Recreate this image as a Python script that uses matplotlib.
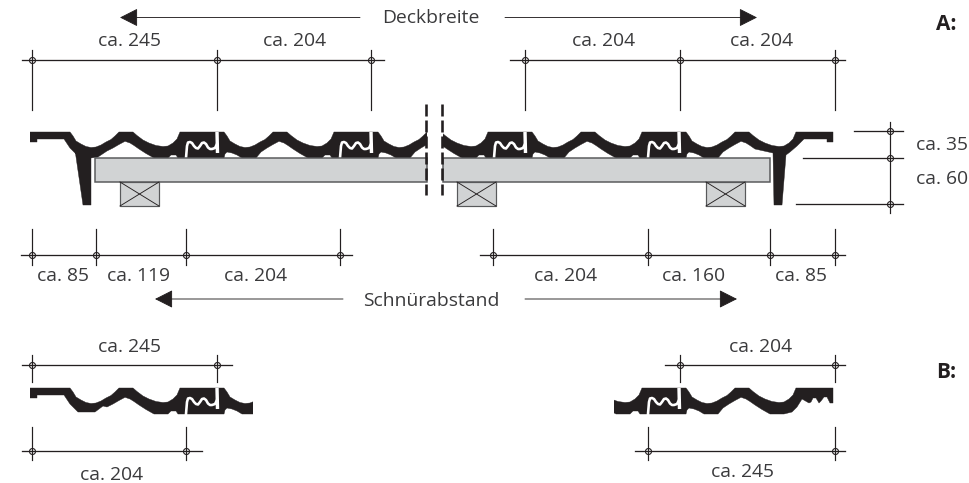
import matplotlib
matplotlib.use("Agg")
import matplotlib.pyplot as plt
from matplotlib.patches import Polygon, Rectangle

plt.rcParams['lines.scale_dashes'] = False
plt.rcParams['font.family'] = ['Open Sans', 'DejaVu Sans']

PX = 0.72
INK = '#231f20'
TXT = '#3a3a3c'
BOARD = '#d1d3d4'
EDGE = '#58595b'

# tile profile, one period (pixels from lock left / top of tile)
top_u = [0, 35, 44, 47, 50, 55, 60, 65, 70, 75, 80, 85, 89, 93, 107, 111, 117, 123, 130, 137, 142, 147, 151, 154]
top_v = [0, 0, 0, 4, 9, 12, 14.5, 15.5, 15, 13, 10, 7.5, 4, 0, 0, 3.5, 8, 11, 13.5, 14.5, 14, 11, 7, 0]
bot_u = [0, 44, 45, 47, 52, 57, 62, 76, 81, 87, 93, 99, 104, 108, 113, 120, 128, 142, 145, 150, 152, 154]
bot_v = [26, 26, 22, 20, 21, 23, 26, 26, 20, 16, 12.5, 9.3, 11, 13.5, 17, 21.5, 26, 26, 23, 23, 26, 26]
# lock: slit + wave (white line)
lock_u = [6, 6.5, 7, 8, 10, 12, 14, 16, 18, 20, 22, 24, 26, 28, 30, 32, 35, 37]
lock_v = [26, 20, 14, 10.5, 10, 11, 14, 16, 16.5, 14, 11, 10.5, 12, 15.5, 17, 17, 16, 12]
slit_u = [37, 37.5]
slit_v = [0, 21]

lock_left = [26, 180, 334, 488, 642]

# end pieces
lcap_top = [(30, 0), (70, 0)]
lcap_bot = [(30, 10), (37, 10), (37, 7), (64, 7), (70, 16), (78, 24)]
rib_left = [(75, 18), (83, 73), (91, 73), (91, 26), (98, 25), (107, 19)]
lip_left_b = [(95, 24), (103, 18), (107, 19)]
rcap_top = [(796, 0), (833, 0)]
rcap_a = [(833, 10), (827, 10), (827, 7), (804, 7), (797, 14), (790, 20), (786, 23),
          (782, 73), (774, 73), (773, 21)]
rcap_b = [(833, 15), (830, 15), (827, 9), (824, 9), (821, 13), (819, 15), (816, 10), (813, 10), (811, 14),
          (809, 15), (802, 11), (797, 19), (792, 24), (784, 26), (770, 26)]

tile_top = 132
tile_top_b = 388

# dimension chains: y, (x from, x to), nodes, (tick top, tick bottom)
dim_y = [60, 60, 255, 255, 365, 365, 451, 451]
dim_x0 = [22, 510, 21, 480, 22, 665, 22, 635]
dim_x1 = [384, 845, 352, 845, 232, 845, 202, 845]
dim_nodes = [[32, 217, 371], [525, 680, 835], [32, 96, 186, 340], [493, 648, 770, 835],
             [32, 217], [680, 835], [32, 186], [648, 835]]
dim_t0 = [50, 50, 229, 229, 355, 355, 427, 427]
dim_t1 = [110, 110, 265, 265, 382, 382, 460, 460]

side_x = 890
side_nodes = [131, 158, 204]
side_from = [854, 803, 796]

labels = ['ca. 245', 'ca. 204', 'ca. 204', 'ca. 204', 'Deckbreite',
          'ca. 85', 'ca. 119', 'ca. 204', 'ca. 204', 'ca. 160', 'ca. 85', 'Schnürabstand',
          'ca. 35', 'ca. 60', 'ca. 245', 'ca. 204', 'ca. 204', 'ca. 245']
label_x = [130, 295, 604, 762, 431, 63, 139, 256, 566, 694, 801, 431, 942, 942, 130, 761, 112, 743]
label_y = [41.5, 41.5, 41.5, 41.5, 18, 276, 276, 276, 276, 276, 276, 301, 144.5, 178.5, 346.5, 346.5, 475, 472]

fig = plt.figure(figsize=(9.69, 4.83), dpi=100)
ax = fig.add_axes([0, 0, 1, 1])
ax.set_xlim(0, 969)
ax.set_ylim(483, 0)
ax.axis('off')


def tile(x_from, x_to_top, x_to_bot, cap_l_top, cap_l_bot, cap_r_top, cap_r_bot, y0, clip, locks):
    upper = list(cap_l_top)
    for x0 in locks:
        upper += [(x0 + u, v) for u, v in zip(top_u, top_v) if x_from <= x0 + u <= x_to_top]
    upper += cap_r_top
    start = cap_l_bot[-1][0] + 2
    lower = list(cap_l_bot)
    for x0 in locks:
        lower += [(x0 + u, v) for u, v in zip(bot_u, bot_v) if start <= x0 + u <= x_to_bot]
    lower += list(reversed(cap_r_bot))
    pts = [(x, y0 + v) for x, v in upper + list(reversed(lower))]
    poly = Polygon(pts, closed=True, fc=INK, ec=INK, lw=0.3, joinstyle='round', zorder=2)
    ax.add_patch(poly)
    cl = Rectangle((clip[0], y0 - 5), clip[1] - clip[0], 90, transform=ax.transData)
    poly.set_clip_path(cl)
    for x0 in locks:
        if x0 < clip[0] or x0 > clip[1]:
            continue
        l1, = ax.plot([x0 + u for u in lock_u], [y0 + v for v in lock_v], color='white',
                      lw=2.6 * PX, solid_joinstyle='round', zorder=3)
        l2, = ax.plot([x0 + u for u in slit_u], [y0 + v for v in slit_v], color='white',
                      lw=3.4 * PX, solid_capstyle='butt', zorder=3)
        l1.set_clip_path(cl)
        l2.set_clip_path(cl)


# row A
tile(70, 600, 600, lcap_top, lcap_bot + rib_left, [], [(600, 26)], tile_top, (30, 427), [26, 180, 334, 488])
tile(340, 796, 760, [(340, 0)], [(340, 26)], rcap_top, rcap_a, tile_top, (443, 834), [334, 488, 642])
# row B
tile(70, 400, 400, lcap_top, lcap_bot + lip_left_b, [], [(400, 26)], tile_top_b, (30, 253), [26, 180, 334])
tile(488, 796, 770, [(490, 0)], [(490, 26)], rcap_top, rcap_b, tile_top_b, (614, 834), [488, 642])

# boards
board_x = [95, 443]
board_w = [332, 327]
for x, w in zip(board_x, board_w):
    ax.add_patch(Rectangle((x, 158), w, 24, fc=BOARD, ec=EDGE, lw=1.5 * PX, zorder=4))
# battens
batten_x = [120, 457, 706]
for x in batten_x:
    ax.add_patch(Rectangle((x, 182), 39, 24, fc=BOARD, ec=EDGE, lw=1.2 * PX, zorder=4))
    ax.plot([x, x + 39], [182, 206], color=INK, lw=0.9 * PX, zorder=5)
    ax.plot([x, x + 39], [206, 182], color=INK, lw=0.9 * PX, zorder=5)

# break marks
for x in [426.5, 442]:
    ax.plot([x, x], [104, 195], color=INK, lw=2.6 * PX, zorder=6,
            linestyle=(0, (12 * PX, 4 * PX)), dash_capstyle='butt')


def node(x, y):
    ax.plot([x], [y], marker='o', ms=6 * PX, mfc='none', mec=INK, mew=1.1 * PX, zorder=7)


for y, a, b, ns, t0, t1 in zip(dim_y, dim_x0, dim_x1, dim_nodes, dim_t0, dim_t1):
    ax.plot([a, b], [y, y], color=INK, lw=1.3 * PX, zorder=6)
    for n in ns:
        ax.plot([n, n], [t0, t1], color=INK, lw=1.2 * PX, zorder=6)
        node(n, y)

ax.plot([side_x, side_x], [122, 213], color=INK, lw=1.2 * PX, zorder=6)
for y, a in zip(side_nodes, side_from):
    ax.plot([a, 903], [y, y], color=INK, lw=1.3 * PX, zorder=6)
    node(side_x, y)

# arrows: (tail, tip, y)
arrows_tail = [360, 505, 343, 525]
arrows_tip = [120, 757, 155, 737]
arrows_y = [17.5, 17.5, 299, 299]
for a, b, y in zip(arrows_tail, arrows_tip, arrows_y):
    ax.annotate('', xy=(b, y), xytext=(a, y),
                arrowprops=dict(arrowstyle='-|>,head_length=0.75,head_width=0.38', color=INK,
                                lw=0.9 * PX, mutation_scale=15, shrinkA=0, shrinkB=0))

for s, x, y in zip(labels, label_x, label_y):
    ax.text(x, y, s, ha='center', va='center', fontsize=13.9, color=TXT)

ax.text(946, 25, 'A:', ha='center', va='center', fontsize=15, color=INK, fontweight='bold')
ax.text(946, 373, 'B:', ha='center', va='center', fontsize=15, color=INK, fontweight='bold')

fig.savefig('out.png', dpi=100, facecolor='white')
